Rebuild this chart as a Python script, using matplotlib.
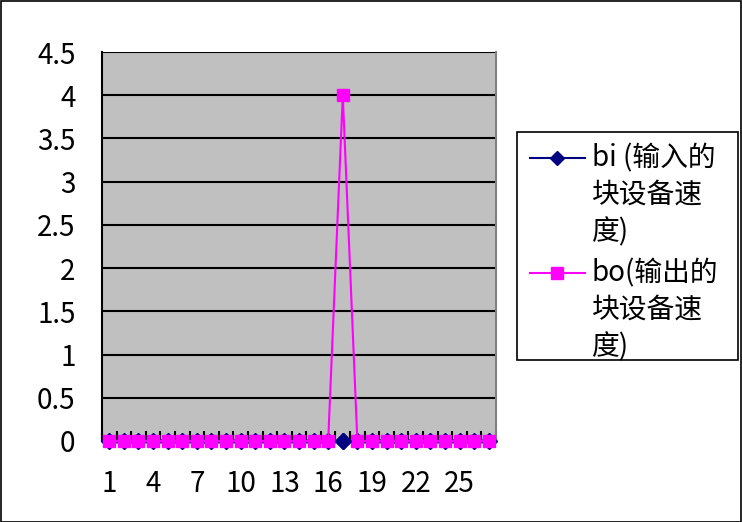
import matplotlib
matplotlib.use('Agg')
import matplotlib.pyplot as plt
from matplotlib.patches import Rectangle
from matplotlib.lines import Line2D

plt.rcParams['font.family'] = ['Noto Sans CJK SC', 'DejaVu Sans']

x = list(range(1, 28))
bi = [0] * 27
bo = [0] * 16 + [4] + [0] * 10
xtick_labels = ['1', '4', '7', '10', '13', '16', '19', '22', '25']
xtick_pos = [1, 4, 7, 10, 13, 16, 19, 22, 25]
yticks = [0, 0.5, 1, 1.5, 2, 2.5, 3, 3.5, 4, 4.5]
ytick_labels = ['0', '0.5', '1', '1.5', '2', '2.5', '3', '3.5', '4', '4.5']
bi_label = 'bi (输入的\n块设备速\n度)'
bo_label = 'bo(输出的\n块设备速\n度)'

FS = 20
W, H = 742, 522

fig = plt.figure(figsize=(7.42, 5.22), dpi=100)
fig.patches.append(Rectangle((0.5 / W, 0.5 / H), 1 - 1.5 / W, 1 - 1.5 / H, transform=fig.transFigure,
                             fill=False, edgecolor='black', linewidth=1.2))
ax = fig.add_axes([102 / W, 1 - 441 / H, 394 / W, 389 / H])
ax.set_facecolor('#C0C0C0')

ax.plot(x, bi, color='#000080', marker='D', markersize=8.5, linewidth=1.5,
        clip_on=False, zorder=3)
ax.plot(x, bo, color='#FF00FF', marker='s', markersize=8.5, linewidth=1.5,
        clip_on=False, zorder=4)
# bi's diamond shows on top where bo leaves zero
ax.plot([x[16]], [bi[16]], color='#000080', marker='D', markersize=8.5,
        linestyle='none', clip_on=False, zorder=5)

ax.set_xlim(0.5, 27.5)
ax.set_ylim(0, 4.5)
ax.set_yticks(yticks)
ax.set_yticklabels(ytick_labels, fontsize=FS)
ax.yaxis.grid(True, color='black', linewidth=1.5)
ax.set_axisbelow(True)
ax.tick_params(axis='y', length=0, pad=19)

ax.set_xticks(xtick_pos)
ax.set_xticklabels(xtick_labels, fontsize=FS)
ax.tick_params(axis='x', which='major', length=0, pad=20)
ax.set_xticks([i + 0.5 for i in range(0, 28)], minor=True)
ax.tick_params(axis='x', which='minor', direction='in', length=7, width=1.5, color='black')

ax.spines['top'].set_visible(False)
ax.spines['right'].set_color('#808080')
ax.spines['right'].set_linewidth(1.5)
ax.spines['left'].set_linewidth(1.5)
ax.spines['bottom'].set_linewidth(1.5)

# legend box drawn by hand, Excel style
fig.patches.append(Rectangle((517 / W, 1 - 360 / H), 221 / W, 228 / H, transform=fig.transFigure,
                             fill=False, edgecolor='black', linewidth=1.2))
entries = [(bi_label, '#000080', 'D', 7, 158), (bo_label, '#FF00FF', 's', 8, 273)]
for label, color, mk, ms, ytop in entries:
    fig.lines.append(Line2D([530 / W, 585 / W], [1 - ytop / H] * 2, transform=fig.transFigure,
                            color=color, linewidth=1.5))
    fig.lines.append(Line2D([557 / W], [1 - ytop / H], transform=fig.transFigure,
                            color=color, marker=mk, markersize=ms))
    for i, line in enumerate(label.split('\n')):
        fig.text(592 / W, 1 - (ytop + i * 37) / H, line, fontsize=FS, va='center', ha='left')

fig.savefig('out.png', dpi=100)
